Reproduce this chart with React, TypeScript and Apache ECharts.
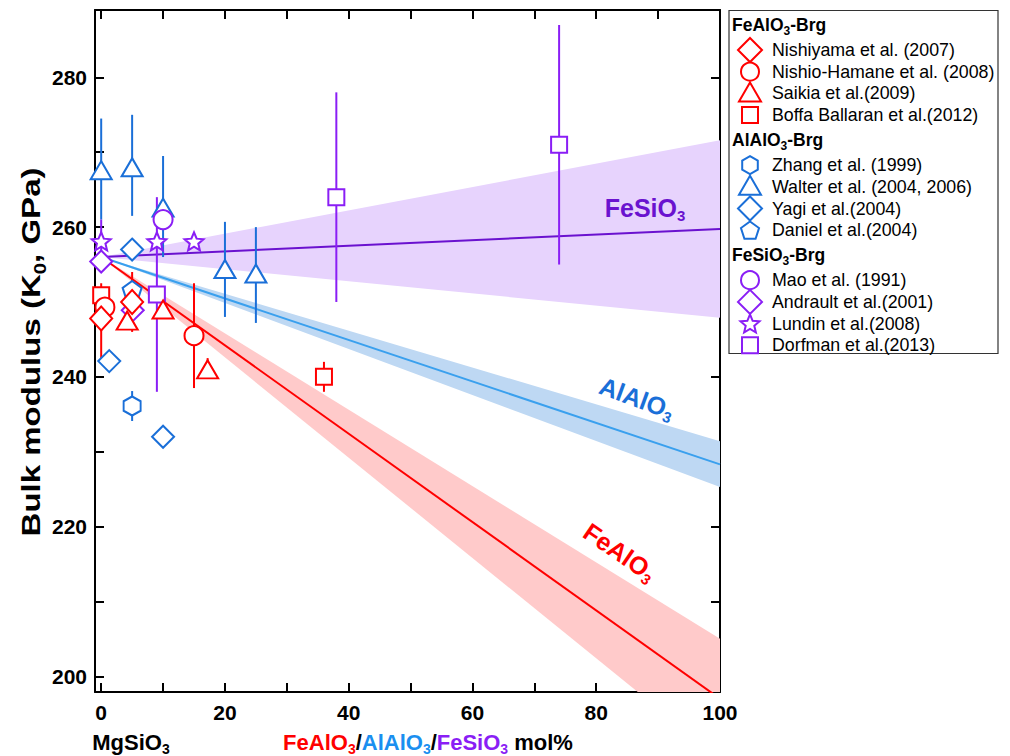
import React, { useEffect, useRef } from 'react';
import * as echarts from 'echarts';

const FONT = "'Liberation Sans', Arial, sans-serif";
const RED = '#ff0000';
const BLUE = '#1a6fd8';
const BLUE_LINE = '#3aa0ee';
const PURPLE = '#8a1ef5';
const PURPLE_LINE = '#6a12cf';
const RED_BAND = '#ffcaca';
const BLUE_BAND = '#bed8f3';
const PURPLE_BAND = '#e7d3fd';

// axis ticks / labels
const xTicks = [0, 10, 20, 30, 40, 50, 60, 70, 80, 90, 100];
const xLabels = [0, 20, 40, 60, 80, 100];
const yTicks = [200, 210, 220, 230, 240, 250, 260, 270, 280];
const yLabels = [200, 220, 240, 260, 280];

// fitted lines and confidence bands, at x = fitX
const fitX = [0, 100];
const feAlO3Fit = [256, 197];
const feAlO3BandLow = [256, 189];
const feAlO3BandHigh = [256, 205];
const alAlO3Fit = [256, 228.3];
const alAlO3BandLow = [256, 225.3];
const alAlO3BandHigh = [256, 231.4];
const feSiO3Fit = [256, 259.75];
const feSiO3BandLow = [256, 247.9];
const feSiO3BandHigh = [256, 271.6];

// data rows: [mol%, K0, errLow, errHigh]
const nishiyama = [[0, 247.8, 242.5, 252.5], [5, 250, 246, 254]];
const nishioHamane = [[0.6, 249.3, null, null], [15, 245.5, 238.5, 252.5]];
const saikia = [[4.2, 247.5, null, null], [10, 249, null, null], [17.2, 241, 240, 242.5]];
const boffaBallaran = [[0, 250.9, null, null], [36, 240, 238, 242]];

const zhang = [[5, 236.1, 234.1, 238.1]];
const walter = [[0, 267.6, 261, 274.5], [5, 268, 261.5, 275], [10, 262.6, 256, 269.5], [20, 254.4, 248, 260.7], [25, 253.8, 247.2, 260]];
const yagi = [[1.3, 242.1, null, null], [5, 257, null, null], [10, 232, null, null]];
const daniel = [[5, 251.6, null, null]];

const mao = [[10, 261, null, null]];
const andrault = [[0, 255.4, null, null], [5.1, 248.9, null, null]];
const lundin = [[0, 258.1, 256, 261], [9, 258.1, null, null], [15, 258.1, null, null]];
const dorfman = [[9, 251, 238, 264], [38, 264, 250, 278], [74, 271, 255, 287]];

const HEX = 'path://M0.5,0 L1,0.25 L1,0.75 L0.5,1 L0,0.75 L0,0.25 Z';
const PENT = 'path://M0,-1 L0.951,-0.309 L0.588,0.809 L-0.588,0.809 L-0.951,-0.309 Z';
const STAR = 'path://M0,-1 L0.265,-0.364 L0.951,-0.309 L0.428,0.139 L0.588,0.809 L0,0.45 L-0.588,0.809 L-0.428,0.139 L-0.951,-0.309 L-0.265,-0.364 Z';

type Row = (number | null)[];

function scatter(name: string, rows: Row[], symbol: string, size: any, color: string) {
  return {
    name,
    type: 'scatter',
    data: rows.map((r) => [r[0], r[1]]),
    symbol,
    symbolSize: size,
    itemStyle: { color: '#ffffff', borderColor: color, borderWidth: 2, opacity: 1 },
    z: 5,
    emphasis: { disabled: true },
    silent: true,
  };
}

function bars(name: string, rows: Row[], color: string) {
  return {
    name: name + ' error',
    type: 'custom',
    data: rows.filter((r) => r[2] != null).map((r) => [r[0], r[2], r[3]]),
    encode: { x: 0, y: [1, 2] },
    z: 4,
    silent: true,
    renderItem: (params: any, api: any) => {
      const a = api.coord([api.value(0), api.value(1)]);
      const b = api.coord([api.value(0), api.value(2)]);
      return {
        type: 'line',
        shape: { x1: a[0], y1: a[1], x2: b[0], y2: b[1] },
        style: { stroke: color, lineWidth: 2 },
      };
    },
  };
}

function band(id: string, low: number[], high: number[], fill: string) {
  return {
    name: id + ' band',
    type: 'custom',
    clip: true,
    silent: true,
    z: 1,
    data: [[fitX[0], low[0], high[0], fitX[1], low[1], high[1]]],
    encode: { x: [0, 3], y: [1, 2, 4, 5] },
    renderItem: (params: any, api: any) => {
      const pts = [
        api.coord([api.value(0), api.value(1)]),
        api.coord([api.value(3), api.value(4)]),
        api.coord([api.value(3), api.value(5)]),
        api.coord([api.value(0), api.value(2)]),
      ];
      return { type: 'polygon', shape: { points: pts }, style: { fill, stroke: 'none' } };
    },
  };
}

function fit(name: string, vals: number[], color: string) {
  return {
    name,
    type: 'line',
    data: fitX.map((x, i) => [x, vals[i]]),
    symbol: 'none',
    lineStyle: { color, width: 2 },
    z: 2,
    silent: true,
  };
}

const legendGroups = [
  {
    title: 'FeAlO',
    color: RED,
    entries: [
      { label: 'Nishiyama et al. (2007)', sym: 'diamond' },
      { label: 'Nishio-Hamane et al. (2008)', sym: 'circle' },
      { label: 'Saikia et al.(2009)', sym: 'triangle' },
      { label: 'Boffa Ballaran et al.(2012)', sym: 'square' },
    ],
  },
  {
    title: 'AlAlO',
    color: BLUE,
    entries: [
      { label: 'Zhang et al. (1999)', sym: 'hexagon' },
      { label: 'Walter et al. (2004, 2006)', sym: 'triangle' },
      { label: 'Yagi et al.(2004)', sym: 'diamond' },
      { label: 'Daniel et al.(2004)', sym: 'pentagon' },
    ],
  },
  {
    title: 'FeSiO',
    color: PURPLE,
    entries: [
      { label: 'Mao et al. (1991)', sym: 'circle' },
      { label: 'Andrault et al.(2001)', sym: 'diamond' },
      { label: 'Lundin et al.(2008)', sym: 'star' },
      { label: 'Dorfman et al.(2013)', sym: 'square' },
    ],
  },
];

function regPoly(cx: number, cy: number, r: number, n: number, start: number) {
  const pts: number[][] = [];
  for (let i = 0; i < n; i++) {
    const a = start + (i * 2 * Math.PI) / n;
    pts.push([cx + r * Math.cos(a), cy + r * Math.sin(a)]);
  }
  return pts;
}

function legendSymbol(sym: string, cx: number, cy: number, color: string) {
  const style = { fill: '#ffffff', stroke: color, lineWidth: 2 };
  if (sym === 'circle') return { type: 'circle', shape: { cx, cy, r: 9 }, style, z: 20 };
  if (sym === 'square') return { type: 'rect', shape: { x: cx - 8, y: cy - 8, width: 16, height: 16 }, style, z: 20 };
  let points: number[][] = [];
  if (sym === 'diamond') points = [[cx, cy - 12], [cx + 12, cy], [cx, cy + 12], [cx - 12, cy]];
  if (sym === 'triangle') points = [[cx, cy - 11], [cx + 11, cy + 8], [cx - 11, cy + 8]];
  if (sym === 'hexagon') points = regPoly(cx, cy, 9, 6, -Math.PI / 2);
  if (sym === 'pentagon') points = regPoly(cx, cy + 0.8, 9.5, 5, -Math.PI / 2);
  if (sym === 'star') {
    const outer = regPoly(cx, cy + 0.8, 10, 5, -Math.PI / 2);
    const inner = regPoly(cx, cy + 0.8, 4.5, 5, -Math.PI / 2 + Math.PI / 5);
    for (let i = 0; i < 5; i++) { points.push(outer[i]); points.push(inner[i]); }
  }
  return { type: 'polygon', shape: { points }, style, z: 20 };
}

function tok(size: number, weight: string, fill?: string, lh?: number, va?: string) {
  const s: any = { fontSize: size, fontWeight: weight, fontFamily: FONT };
  if (fill) s.fill = fill;
  if (lh) s.lineHeight = lh;
  if (va) s.verticalAlign = va;
  return s;
}

function buildLegend() {
  const els: any[] = [];
  els.push({
    type: 'rect',
    shape: { x: 729, y: 10.5, width: 269, height: 343 },
    style: { fill: '#ffffff', stroke: '#333333', lineWidth: 1.2 },
    z: 15,
  });
  let y = 25;
  legendGroups.forEach((g) => {
    els.push({
      type: 'text',
      x: 732,
      y,
      z: 20,
      style: {
        text: '{b|' + g.title + '}{s|3}{b|-Brg}',
        fill: '#000',
        align: 'left',
        verticalAlign: 'middle',
        rich: { b: tok(17.5, 'bold', '#000', 24), s: tok(12, 'bold', '#000', 24, 'bottom') },
      },
    });
    y += 25;
    g.entries.forEach((e) => {
      els.push(legendSymbol(e.sym, 750, y, g.color));
      els.push({
        type: 'text',
        x: 772,
        y,
        z: 20,
        style: { text: e.label, fill: '#000', font: '17.8px ' + FONT, align: 'left', verticalAlign: 'middle' },
      });
      y += 21.7;
    });
    y += 3.3;
  });
  return els;
}

function plotLabel(main: string, color: string, x: number, y: number, rotation: number) {
  return {
    type: 'text',
    x,
    y,
    rotation,
    z: 12,
    style: {
      text: '{a|' + main + '}{s|3}',
      fill: color,
      align: 'center',
      verticalAlign: 'middle',
      rich: { a: tok(25, 'bold', color, 30), s: tok(15, 'bold', color, 30, 'bottom') },
    },
  };
}

export default function App() {
  const ref = useRef<HTMLDivElement>(null);
  useEffect(() => {
    if (!ref.current) return;
    const chart = echarts.init(ref.current, null, { renderer: 'svg' });
    const axisLine = { show: true, onZero: false, lineStyle: { color: '#000', width: 2 } };
    const tickStyle = { color: '#000', width: 2 };
    const labelStyle = { color: '#000', fontSize: 21, fontWeight: 'bold', fontFamily: FONT };
    const option: any = {
      animation: false,
      backgroundColor: '#ffffff',
      textStyle: { fontFamily: FONT },
      grid: { left: 95, top: 10, width: 625, height: 682, containLabel: false },
      xAxis: [
        {
          type: 'value', position: 'bottom', min: -1, max: 100,
          axisLine, splitLine: { show: false },
          axisTick: { show: true, inside: true, length: 9, lineStyle: tickStyle, customValues: xTicks },
          axisLabel: { ...labelStyle, margin: 10, customValues: xLabels },
        },
        {
          type: 'value', position: 'top', min: -1, max: 100,
          axisLine, splitLine: { show: false },
          axisTick: { show: true, inside: true, length: 9, lineStyle: tickStyle, customValues: xTicks },
          axisLabel: { show: false },
        },
      ],
      yAxis: [
        {
          type: 'value', position: 'left', min: 197.9, max: 289,
          axisLine, splitLine: { show: false },
          axisTick: { show: true, inside: true, length: 9, lineStyle: tickStyle, customValues: yTicks },
          axisLabel: { ...labelStyle, margin: 8, customValues: yLabels },
        },
        {
          type: 'value', position: 'right', min: 197.9, max: 289,
          axisLine, splitLine: { show: false },
          axisTick: { show: true, inside: true, length: 9, lineStyle: tickStyle, customValues: yTicks },
          axisLabel: { show: false },
        },
      ],
      series: [
        band('feSiO3', feSiO3BandLow, feSiO3BandHigh, PURPLE_BAND),
        band('alAlO3', alAlO3BandLow, alAlO3BandHigh, BLUE_BAND),
        band('feAlO3', feAlO3BandLow, feAlO3BandHigh, RED_BAND),
        fit('FeSiO3 fit', feSiO3Fit, PURPLE_LINE),
        fit('AlAlO3 fit', alAlO3Fit, BLUE_LINE),
        fit('FeAlO3 fit', feAlO3Fit, RED),
        bars('Nishiyama', nishiyama, RED),
        bars('Nishio-Hamane', nishioHamane, RED),
        bars('Saikia', saikia, RED),
        bars('Boffa Ballaran', boffaBallaran, RED),
        bars('Zhang', zhang, BLUE),
        bars('Walter', walter, BLUE),
        bars('Lundin', lundin, PURPLE),
        bars('Dorfman', dorfman, PURPLE),
        scatter('Walter et al. (2004, 2006)', walter, 'triangle', [21, 18], BLUE),
        scatter('Zhang et al. (1999)', zhang, HEX, [17, 19], BLUE),
        scatter('Yagi et al.(2004)', yagi, 'diamond', [22, 22], BLUE),
        scatter('Daniel et al.(2004)', daniel, PENT, [19, 18], BLUE),
        scatter('Mao et al. (1991)', mao, 'circle', 19, PURPLE),
        scatter('Dorfman et al.(2013)', dorfman, 'rect', 16, PURPLE),
        scatter('Lundin et al.(2008)', lundin, STAR, [19, 18], PURPLE),
        scatter('Andrault et al.(2001)', andrault, 'diamond', [22, 22], PURPLE),
        scatter('Boffa Ballaran et al.(2012)', boffaBallaran, 'rect', 16, RED),
        scatter('Nishio-Hamane et al. (2008)', nishioHamane, 'circle', 19, RED),
        scatter('Nishiyama et al. (2007)', nishiyama, 'diamond', [22, 24], RED),
        scatter('Saikia et al.(2009)', saikia, 'triangle', [21, 18], RED),
      ],
      graphic: {
        elements: [
          ...buildLegend(),
          plotLabel('FeSiO', PURPLE_LINE, 645, 208, 0),
          plotLabel('AlAlO', BLUE, 637, 398, -0.35),
          plotLabel('FeAlO', RED, 620, 552, -0.6),
          {
            type: 'text', x: 31, y: 352, rotation: Math.PI / 2, scaleX: 1.27, z: 12,
            style: {
              text: '{a|Bulk modulus (K}{s|0}{a|, GPa)}',
              fill: '#000', align: 'center', verticalAlign: 'middle',
              rich: { a: tok(26, 'bold', '#000', 34), s: tok(16, 'bold', '#000', 34, 'bottom') },
            },
          },
          {
            type: 'text', x: 131, y: 742, z: 12,
            style: {
              text: '{a|MgSiO}{s|3}',
              fill: '#000', align: 'center', verticalAlign: 'middle',
              rich: { a: tok(22, 'bold', '#000', 28), s: tok(14, 'bold', '#000', 28, 'bottom') },
            },
          },
          {
            type: 'text', x: 428, y: 742, z: 12,
            style: {
              text: '{r|FeAlO}{rs|3}{k|/}{b|AlAlO}{bs|3}{k|/}{p|FeSiO}{ps|3}{k| mol%}',
              fill: '#000', align: 'center', verticalAlign: 'middle',
              rich: {
                r: tok(22, 'bold', RED, 28), rs: tok(14, 'bold', RED, 28, 'bottom'),
                b: tok(22, 'bold', '#1a8ff0', 28), bs: tok(14, 'bold', '#1a8ff0', 28, 'bottom'),
                p: tok(22, 'bold', PURPLE, 28), ps: tok(14, 'bold', PURPLE, 28, 'bottom'),
                k: tok(22, 'bold', '#000', 28),
              },
            },
          },
        ],
      },
    };
    chart.setOption(option);
    return () => chart.dispose();
  }, []);
  return (
    <div
      ref={ref}
      style={{ position: 'fixed', left: 0, top: 0, width: 1010, height: 756, background: '#fff' }}
    />
  );
}
